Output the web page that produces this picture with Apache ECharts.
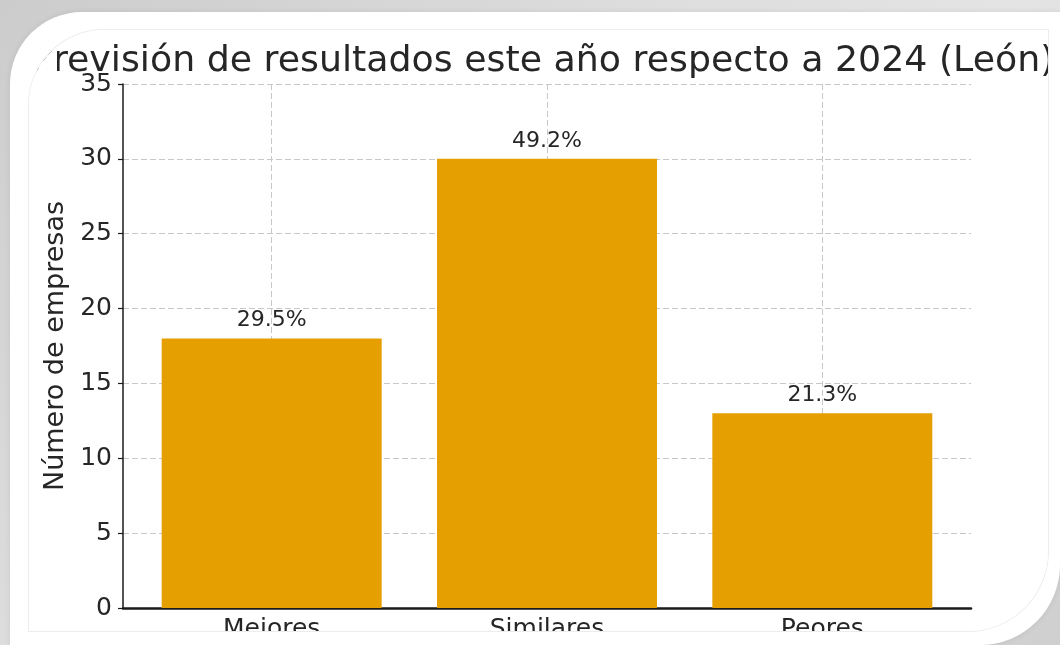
<!DOCTYPE html>
<html>
<head>
<meta charset="utf-8">
<script src="https://cdn.jsdelivr.net/npm/echarts@6/dist/echarts.min.js"></script>
<style>
  html, body { margin: 0; padding: 0; width: 1060px; height: 645px; overflow: hidden; background: #fff; }
  #bg { position: absolute; left: 0; top: 0; width: 1060px; height: 645px;
        background: linear-gradient(135deg, #cccccc 0%, #dedede 40%, #e4e4e4 60%, #cfcfcf 100%); }
  #card { position: absolute; left: 10px; top: 12px; right: 0; bottom: 0; background: #fff;
          border-radius: 72px 0 80px 0; box-shadow: 0 0 6px rgba(0,0,0,0.08); }
  #frame { position: absolute; left: 29px; top: 30px; width: 1019px; height: 601px;
           border-top-left-radius: 75px; border-bottom-right-radius: 80px; overflow: hidden;
           box-shadow: 0 0 0 1px #ececec; background: #fff; }
  #chart { position: absolute; left: 0; top: 0; width: 1019px; height: 601px; }
  #clip { position: absolute; left: 0; top: 6px; width: 28px; height: 50px; background: #fff; z-index: 5; }
</style>
</head>
<body>
<div id="bg"></div>
<div id="card"></div>
<div id="frame"><div id="chart"></div><div id="clip"></div></div>
<script>
const titleText = 'Previsión de resultados este año respecto a 2024 (León)';
const yAxisName = 'Número de empresas';
const categories = ['Mejores', 'Similares', 'Peores'];
const values = [18, 30, 13];
const percentLabels = ['29.5%', '49.2%', '21.3%'];
const yTicks = [0, 5, 10, 15, 20, 25, 30, 35];

const FONT = "'DejaVu Sans', 'Noto Sans', sans-serif";
const chart = echarts.init(document.getElementById('chart'), null, { renderer: 'canvas' });

const positions = categories.map((c, i) => i);

chart.setOption({
  animation: false,
  backgroundColor: '#fff',
  title: {
    text: titleText,
    left: 509,
    top: 9,
    textAlign: 'center',
    textStyle: { fontFamily: FONT, fontSize: 36.3, fontWeight: 'normal', color: '#262626' }
  },
  grid: { left: 94, right: 77, top: 54, bottom: 23, containLabel: false, outerBoundsMode: 'none' },
  xAxis: {
    type: 'value',
    min: -0.54,
    max: 2.54,
    axisLine: { show: true, onZero: false, lineStyle: { color: '#1a1a1a', width: 2.5 } },
    axisTick: { show: true, inside: true, length: 8, customValues: positions,
                lineStyle: { color: '#1a1a1a', width: 1.2 } },
    axisLabel: { show: true, customValues: positions, margin: 9,
                 formatter: v => categories[Math.round(v)] || '',
                 fontFamily: FONT, fontSize: 25, color: '#262626' },
    splitLine: { show: true, lineStyle: { color: '#c8c8c8', width: 1, type: [6, 3] } }
  },
  yAxis: {
    type: 'value',
    min: yTicks[0],
    max: yTicks[yTicks.length - 1],
    interval: 5,
    name: yAxisName,
    nameLocation: 'middle',
    nameRotate: 90,
    nameGap: 54,
    nameTextStyle: { fontFamily: FONT, fontSize: 27, color: '#262626' },
    axisLine: { show: true, onZero: false, lineStyle: { color: '#1a1a1a', width: 1.5 } },
    axisTick: { show: true, length: 5, lineStyle: { color: '#1a1a1a', width: 1.2 } },
    axisLabel: { margin: 11, fontFamily: FONT, fontSize: 25, color: '#262626' },
    splitLine: { show: true, lineStyle: { color: '#c8c8c8', width: 1, type: [6, 3] } }
  },
  series: [{
    type: 'bar',
    barWidth: 220,
    data: values.map((v, i) => [positions[i], v]),
    itemStyle: { color: '#E69F00' },
    label: {
      show: true,
      position: 'top',
      distance: 7,
      formatter: p => percentLabels[p.dataIndex],
      fontFamily: FONT,
      fontSize: 22,
      color: '#262626'
    }
  }]
});
</script>
</body>
</html>
